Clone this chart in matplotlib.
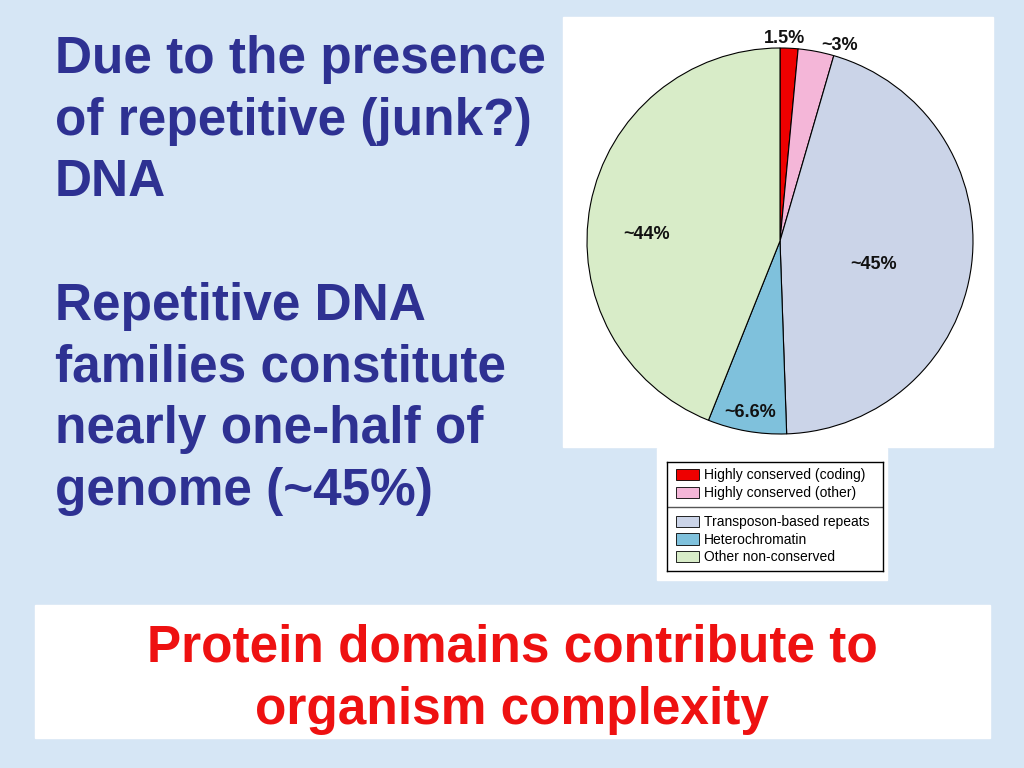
import matplotlib.pyplot as plt
import matplotlib.patches as mpatches
import numpy as np

# slice data, clockwise from 12 o'clock
names = ["Highly conserved (coding)", "Highly conserved (other)",
         "Transposon-based repeats", "Heterochromatin", "Other non-conserved"]
shares = [1.5, 3.0, 45.0, 6.6, 44.0]
slice_labels = ["1.5%", "~3%", "~45%", "~6.6%", "~44%"]
colors = ["#ee0000", "#f4b6d8", "#cbd4e8", "#7fc1dc", "#d8ecc8"]

left_text = ("Due to the presence\nof repetitive (junk?)\nDNA\n\n"
             "Repetitive DNA\nfamilies constitute\nnearly one-half of\ngenome (~45%)")
bottom_text = "Protein domains contribute to\norganism complexity"

W, H = 1024, 768
fig = plt.figure(figsize=(W / 100, H / 100), dpi=100)
fig.patch.set_facecolor("#d6e6f5")
plt.rcParams['font.family'] = ['Liberation Sans', 'DejaVu Sans']


def box(x0, y0, x1, y1):
    # pixel box -> figure fraction rect
    return [x0 / W, 1 - y1 / H, (x1 - x0) / W, (y1 - y0) / H]


# white panels
for (x0, y0, x1, y1) in [(563, 17, 993, 447), (657, 448, 887, 580), (35, 605, 990, 738)]:
    fig.patches.append(mpatches.Rectangle((x0 / W, 1 - y1 / H), (x1 - x0) / W, (y1 - y0) / H,
                                          transform=fig.transFigure, color="white", zorder=-5))

# pie
cx, cy, r = 780, 241, 193
ax = fig.add_axes(box(cx - r, cy - r, cx + r, cy + r))
ax.set_zorder(2)
wedges, _ = ax.pie(shares, colors=colors, startangle=90, counterclock=False,
                   wedgeprops=dict(edgecolor="black", linewidth=0.8))
ax.set_xlim(-1, 1)
ax.set_ylim(-1, 1)
ax.set_aspect("equal")
ax.axis("off")

lab_r = [1.05, 1.06, 0.50, 0.90, 0.69]
lab_shift = [1.3, -6, -7, 0, 8]
for w, lab, rr, sh in zip(wedges, slice_labels, lab_r, lab_shift):
    ang = np.deg2rad((w.theta1 + w.theta2) / 2 + sh)
    ax.text(rr * np.cos(ang), rr * np.sin(ang), lab, ha="center", va="center",
            fontsize=13, fontweight="bold", color="#111111", clip_on=False)

# legend
lax = fig.add_axes(box(667, 462, 883, 571))
lax.set_zorder(2)
lax.set_xticks([])
lax.set_yticks([])
for s in lax.spines.values():
    s.set_linewidth(1.0)
lax.axhline(0.585, color="#555555", linewidth=1.0)
handles = [mpatches.Patch(facecolor=c, edgecolor="black", linewidth=0.6) for c in colors]
kw = dict(loc="upper left", frameon=False, fontsize=10, handlelength=1.65,
          handleheight=0.85, handletextpad=0.4, labelspacing=0.25,
          borderaxespad=0.0, borderpad=0.35)
leg1 = lax.legend(handles[:2], names[:2], bbox_to_anchor=(0.018, 0.985), **kw)
lax.add_artist(leg1)
lax.legend(handles[2:], names[2:], bbox_to_anchor=(0.018, 0.555), **kw)

# text
fig.text(55 / W, 1 - 35 / H, left_text, ha="left", va="top", fontsize=37,
         fontweight="bold", color="#2e3192", linespacing=1.335)
fig.text(512 / W, 1 - 679 / H, bottom_text, ha="center", va="center", fontsize=37,
         fontweight="bold", color="#ee1111", linespacing=1.36)

fig.savefig("out.png", dpi=100, facecolor=fig.get_facecolor())
